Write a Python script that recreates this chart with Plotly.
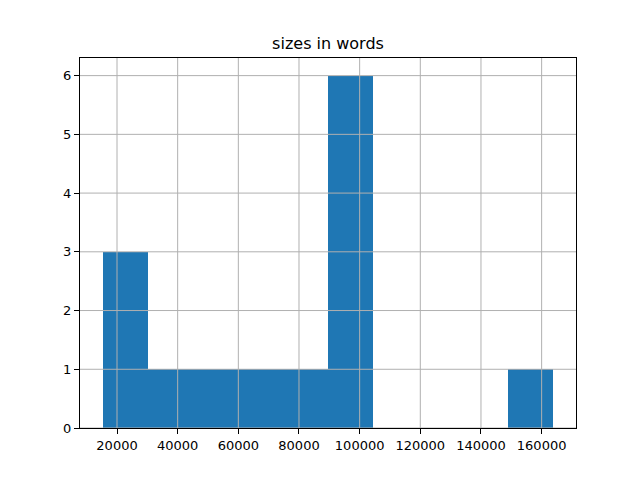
import plotly.graph_objects as go

# histogram data
bin_min = 15232
bin_max = 163900
counts = [3, 1, 1, 1, 1, 6, 0, 0, 0, 1]
x_ticks = [20000, 40000, 60000, 80000, 100000, 120000, 140000, 160000]
y_ticks = [0, 1, 2, 3, 4, 5, 6]
title = "sizes in words"

n = len(counts)
w = (bin_max - bin_min) / n
edges = [bin_min + i * w for i in range(n + 1)]
centers = [(edges[i] + edges[i + 1]) / 2 for i in range(n)]
span = bin_max - bin_min

fig = go.Figure(go.Bar(x=centers, y=counts, width=[w] * n,
                       marker=dict(color="#1f77b4", line=dict(width=0))))

# grid drawn above the bars, as in the reference
grid = dict(color="#b0b0b0", width=1)
for v in x_ticks:
    fig.add_shape(type="line", xref="x", yref="paper", x0=v, x1=v, y0=0, y1=1,
                  line=grid, layer="above")
for v in y_ticks:
    fig.add_shape(type="line", xref="paper", yref="y", x0=0, x1=1, y0=v, y1=v,
                  line=grid, layer="above")

font = dict(family="DejaVu Sans", size=13, color="black")
axis_common = dict(showline=True, linecolor="black", linewidth=1, mirror=True,
                   ticks="outside", ticklen=5, tickcolor="black", tickwidth=1,
                   showgrid=False, zeroline=False, layer="above traces",
                   tickfont=font)

# page has an 8px body margin; compensate
fig.update_layout(
    width=640, height=480,
    margin=dict(l=72, r=72, t=50, b=60),
    paper_bgcolor="white", plot_bgcolor="white",
    showlegend=False, bargap=0,
    title=dict(text=title, x=(80 - 8 + 248) / 640, xanchor="center", xref="paper",
               y=1 - 35 / 480, yanchor="middle",
               font=dict(family="DejaVu Sans", size=16, color="black")),
    xaxis=dict(range=[bin_min - 0.05 * span, bin_max + 0.05 * span],
               tickvals=x_ticks, ticktext=[str(v) for v in x_ticks], **axis_common),
    yaxis=dict(range=[0, 6.3], tickvals=y_ticks,
               ticktext=[str(v) for v in y_ticks], **axis_common),
)

fig.write_html("out.html")
